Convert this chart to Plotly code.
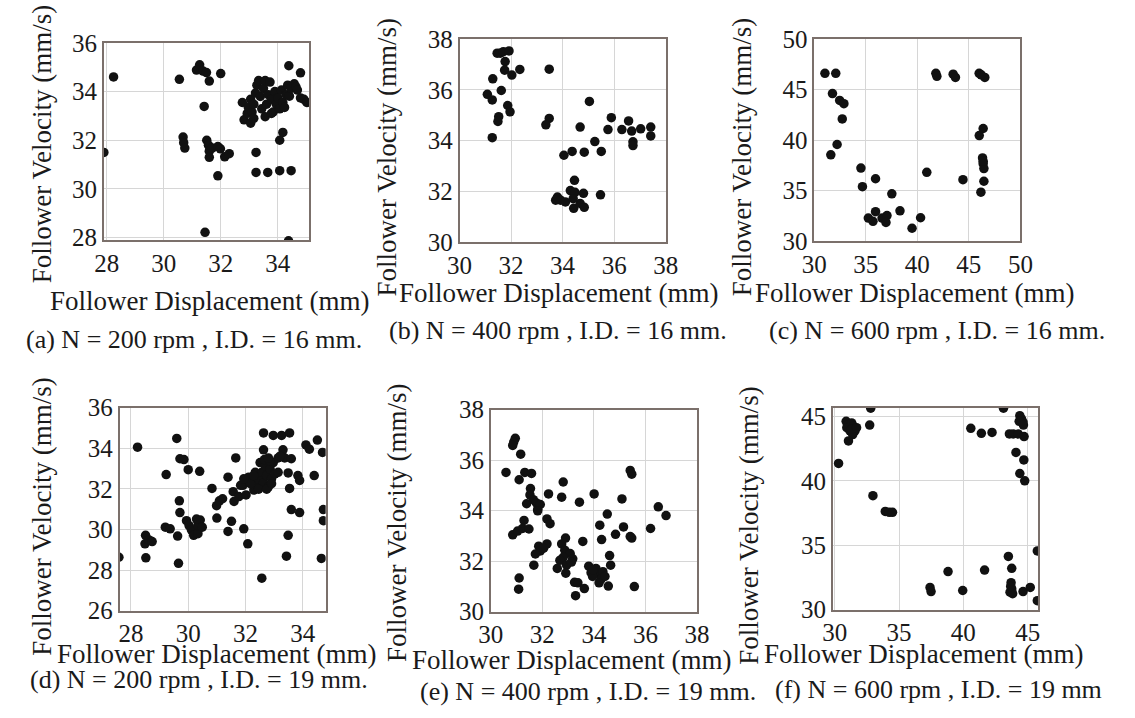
import plotly.graph_objects as go

# ---------------- data ----------------
# (a) N = 200 rpm, I.D. = 16 mm
a_disp = [28.24, 27.9, 30.55, 31.26, 31.15, 31.38, 31.5, 31.6, 32.0, 31.42, 30.68, 30.7, 30.74,
          31.51, 31.57, 31.6, 31.6, 31.7, 31.9, 31.99, 32.14, 32.3, 31.9, 31.45, 33.24, 33.24,
          33.65, 34.07, 34.47, 34.07, 34.18, 34.39, 34.8, 34.38,
          32.76, 32.82, 32.93, 32.97, 33.05, 33.1, 33.16, 33.22, 33.27, 33.33, 33.39, 33.44,
          33.5, 33.56, 33.61, 33.67, 33.73, 33.78, 33.84, 33.9, 33.95, 34.01, 34.07, 34.13,
          34.18, 34.24, 34.3, 34.35, 34.41, 34.47, 34.58, 34.64, 34.69, 34.8, 34.92, 33.16,
          33.56, 33.78, 33.05, 35.02]
a_vel = [34.6, 31.5, 34.5, 35.1, 34.88, 34.84, 34.78, 34.43, 34.74, 33.39, 32.13, 31.9, 31.68,
         32.0, 31.8, 31.55, 31.3, 31.68, 31.74, 31.65, 31.32, 31.45, 30.54, 28.22, 31.5, 30.68,
         30.68, 30.75, 30.75, 32.0, 32.32, 35.06, 34.77, 27.87,
         33.55, 32.84, 33.1, 33.35, 33.68, 33.16, 33.48, 33.94, 34.26, 34.45, 33.8, 33.29,
         34.13, 34.45, 33.48, 33.87, 34.39, 33.68, 33.16, 34.0, 33.48, 33.74, 33.29, 34.06,
         33.55, 33.35, 33.87, 34.26, 33.81, 34.13, 34.32, 34.19, 34.06, 33.74, 33.68, 32.9,
         32.97, 33.1, 32.7, 33.55]

# (b) N = 400 rpm, I.D. = 16 mm
b_disp = [31.46, 31.58, 31.7, 31.92, 31.77, 31.75, 32.03, 32.34, 31.29, 31.62, 31.08, 31.27,
          31.87, 31.96, 31.52, 31.49, 31.27, 33.48, 33.48, 33.35, 35.04, 34.68, 35.89, 35.76,
          36.3, 36.56, 36.68, 37.03, 37.42, 37.42, 36.73, 36.73, 35.25, 35.5, 34.84, 34.05,
          34.37, 34.46, 34.3, 34.48, 34.81, 33.8, 33.92, 34.11, 34.43, 34.68, 34.84, 35.47,
          33.73, 34.41]
b_vel = [37.44, 37.44, 37.5, 37.53, 37.11, 36.77, 36.58, 36.8, 36.43, 35.97, 35.82, 35.6,
         35.38, 35.13, 34.94, 34.75, 34.11, 36.81, 34.87, 34.62, 35.54, 34.53, 34.9, 34.43,
         34.43, 34.77, 34.37, 34.46, 34.53, 34.18, 33.95, 33.8, 33.96, 33.57, 33.54, 33.42,
         33.57, 32.43, 32.03, 31.96, 31.92, 31.77, 31.65, 31.58, 31.33, 31.52, 31.37, 31.86,
         31.65, 31.71]

# (c) N = 600 rpm, I.D. = 16 mm
c_disp = [31.04, 32.09, 31.77, 32.47, 32.88, 32.72, 32.22, 31.61, 34.53, 34.68, 35.95, 37.53,
          35.95, 35.25, 35.7, 36.58, 37.06, 36.96, 38.32, 39.49, 40.32, 40.92, 41.8, 41.9,
          43.48, 43.7, 46.0, 46.55, 46.2, 44.43, 46.39, 46.01, 46.33, 46.39, 46.46, 46.46,
          46.17, 46.39]
c_vel = [46.6, 46.6, 44.6, 43.92, 43.6, 42.09, 39.56, 38.54, 37.22, 35.38, 36.17, 34.68,
         32.91, 32.28, 31.96, 32.28, 32.53, 31.84, 33.0, 31.27, 32.31, 36.8, 46.6, 46.3,
         46.52, 46.2, 46.6, 46.2, 46.45, 36.08, 41.14, 40.44, 38.23, 37.66, 37.18, 35.92,
         34.84, 37.9]

# (d) N = 200 rpm, I.D. = 19 mm
d_disp = [27.58, 28.23, 28.51, 28.49, 28.63, 28.74, 28.52, 29.23, 29.2, 29.37, 29.6, 29.66,
          29.63, 29.69, 29.71, 29.71, 29.85, 30.0, 30.4, 29.94, 30.03, 30.11, 30.19, 30.34,
          30.42, 30.34, 30.49, 30.29, 30.83, 30.99, 31.0, 31.09, 31.2, 31.39, 31.51, 31.39,
          31.57, 31.6, 31.66, 31.77, 31.91, 31.94, 32.02, 32.08, 32.11, 32.23, 32.29, 32.34,
          32.4, 32.46, 32.51, 32.57, 32.63, 32.63, 32.63, 32.69, 32.74, 32.8, 32.86, 32.91,
          32.97, 32.97, 33.03, 33.14, 33.26, 33.31, 33.37, 33.49, 33.54, 33.54, 33.6, 33.6,
          33.49, 33.43, 32.57, 33.83, 33.89, 33.89, 34.11, 34.23, 34.4, 34.51, 34.69, 34.72,
          34.72, 34.65, 32.17, 32.29, 32.46, 32.66, 32.74, 32.86, 32.91, 33.14, 33.2, 32.8,
          31.83, 31.94]
d_vel = [28.63, 34.05, 29.71, 29.29, 29.48, 29.4, 28.6, 32.7, 30.11, 30.03, 34.48, 28.33,
         29.67, 31.41, 30.83, 33.48, 33.44, 32.94, 32.86, 30.43, 30.19, 29.98, 29.71, 29.79,
         30.46, 30.19, 30.11, 30.51, 32.02, 31.17, 30.56, 31.41, 31.51, 29.9, 30.4, 32.57,
         31.86, 31.38, 33.52, 31.62, 32.17, 30.03, 31.7, 29.29, 32.57, 32.33, 31.94, 32.81,
         32.17, 32.49, 33.29, 32.81, 32.3, 34.75, 33.92, 33.13, 32.65, 32.1, 32.97, 32.49,
         34.63, 33.29, 32.73, 33.52, 34.63, 33.92, 33.52, 32.78, 32.02, 34.75, 33.48, 30.98,
         29.71, 28.68, 27.6, 32.65, 32.41, 30.83, 34.16, 33.95, 32.65, 34.4, 33.79, 30.98,
         30.43, 28.57, 32.25, 32.65, 31.98, 33.44, 31.98, 33.37, 32.25, 32.81, 33.6, 33.52,
         32.17, 32.49]

# (e) N = 400 rpm, I.D. = 19 mm
e_disp = [30.95, 30.89, 30.85, 31.16, 30.59, 31.1, 31.32, 31.58, 31.54, 31.52, 31.65, 31.39,
          31.77, 31.82, 31.92, 31.82, 32.24, 32.81, 32.75, 33.44, 34.01, 35.09, 35.41, 35.47,
          34.52, 34.23, 35.15, 34.84, 35.41, 35.47, 36.2, 36.5, 36.8, 31.29, 31.23, 31.48,
          30.85, 31.04, 32.18, 32.3, 32.18, 31.86, 31.92, 31.73, 32.05, 31.67, 32.9, 32.75,
          32.87, 33.08, 33.18, 32.81, 32.68, 32.58, 32.94, 33.13, 32.91, 33.57, 33.25, 33.38,
          33.29, 33.63, 33.8, 33.89, 34.08, 34.18, 34.27, 34.35, 34.43, 34.56, 34.2, 34.3,
          34.61, 34.65, 33.95, 33.97, 35.57, 31.1, 31.08]
e_vel = [36.86, 36.71, 36.58, 36.23, 35.51, 35.22, 35.51, 35.47, 34.87, 34.62, 34.43, 34.27,
         34.3, 34.05, 34.24, 33.99, 34.66, 35.13, 34.53, 34.33, 34.66, 34.46, 35.59, 35.44,
         33.86, 33.42, 33.35, 33.06, 32.97, 32.91, 33.29, 34.15, 33.8, 33.61, 33.29, 33.27,
         33.04, 33.19, 33.67, 33.48, 32.68, 32.59, 32.4, 32.28, 32.51, 31.84, 32.91, 32.68,
         32.43, 32.3, 32.09, 32.15, 32.03, 31.71, 31.84, 31.96, 31.52, 32.78, 31.16, 31.14,
         30.63, 30.91, 31.8, 31.54, 31.71, 31.52, 31.27, 31.58, 31.39, 31.01, 31.14, 32.85,
         32.22, 31.84, 31.39, 31.65, 30.99, 31.33, 30.89]

# (f) N = 600 rpm, I.D. = 19 mm
f_disp = [30.3, 30.89, 31.07, 30.94, 31.32, 31.45, 31.57, 31.19, 31.4, 31.07, 31.32, 31.7,
          32.72, 32.8, 32.97, 33.93, 34.24, 34.49, 37.41, 37.49, 38.81, 39.95, 41.65, 40.58,
          41.4, 42.23, 43.12, 43.58, 43.88, 44.26, 44.72, 44.39, 44.52, 44.64, 44.34, 44.67,
          44.09, 44.7, 44.39, 44.77, 43.5, 43.76, 43.71, 43.76, 43.63, 43.83, 44.64, 45.2,
          45.75, 45.75, 43.68]
f_vel = [41.36, 44.63, 44.39, 44.14, 44.51, 44.26, 43.89, 43.89, 43.6, 43.11, 44.02, 44.14,
         44.34, 45.65, 38.86, 37.63, 37.56, 37.56, 31.73, 31.41, 32.96, 31.49, 33.08, 44.09,
         43.7, 43.77, 45.65, 43.65, 43.65, 43.65, 43.45, 45.07, 44.83, 44.58, 44.63, 44.34,
         42.22, 41.63, 40.58, 40.01, 34.14, 33.21, 32.1, 31.61, 31.36, 31.24, 31.41, 31.73,
         34.56, 30.7, 31.81]

captions = ["(a) N = 200 rpm , I.D. = 16 mm.", "(b) N = 400 rpm , I.D. = 16 mm.",
            "(c) N = 600 rpm , I.D. = 16 mm.", "(d) N = 200 rpm , I.D. = 19 mm.",
            "(e) N = 400 rpm , I.D. = 19 mm.", "(f) N = 600 rpm , I.D. = 19 mm"]
x_title = "Follower Displacement (mm)"
y_title = "Follower Velocity (mm/s)"

x_ranges = [[27.9, 35.1], [30, 38], [30, 50], [27.6, 34.8], [30, 38], [29.85, 45.8]]
y_ranges = [[27.9, 36.0], [30, 38], [30, 50], [26, 36], [30, 38], [30.0, 45.7]]
x_ticks = [[28, 30, 32, 34], [30, 32, 34, 36, 38], [30, 35, 40, 45, 50],
           [28, 30, 32, 34], [30, 32, 34, 36, 38], [30, 35, 40, 45]]
y_ticks = [[28, 30, 32, 34, 36], [30, 32, 34, 36, 38], [30, 35, 40, 45, 50],
           [26, 28, 30, 32, 34, 36], [30, 32, 34, 36, 38], [30, 35, 40, 45]]

series = [(a_disp, a_vel), (b_disp, b_vel), (c_disp, c_vel),
          (d_disp, d_vel), (e_disp, e_vel), (f_disp, f_vel)]

# ---------------- layout (pixel geometry) ----------------
W, H = 1135, 718
boxes = [(93, 303, 31, 236), (457, 668, 27, 238), (820, 1031, 27, 237),
         (109, 320, 410, 621), (489, 700, 412, 622), (839, 1049, 410, 620)]
xtitle_pos = [(201, 299), (558, 291), (923, 291), (208, 666), (572, 672), (932, 666)]
ytitle_pos = [(30, 136), (383, 150), (746, 150), (30, 523), (393, 530), (753, 533)]
caption_pos = [(185, 339), (558, 330), (946, 330), (190, 693), (588, 705), (947, 703)]

FONT = "Liberation Serif, Times New Roman, serif"
TXT = "#1a1a1a"

fig = go.Figure()
layout = dict(width=W, height=H, autosize=False, margin=dict(l=0, r=0, t=0, b=0),
              paper_bgcolor="white", plot_bgcolor="white", showlegend=False)
annotations = []

for i, (xs, ys) in enumerate(series):
    k = "" if i == 0 else str(i + 1)
    fig.add_trace(go.Scatter(x=xs, y=ys, mode="markers", xaxis="x" + k, yaxis="y" + k,
                             marker=dict(color="#111111", size=9.5, line=dict(width=0))))
    l, r, t, b = boxes[i]
    common = dict(showline=True, mirror=True, linecolor="#7b706b", linewidth=1.5,
                  showgrid=True, gridcolor="#d6d6d6", gridwidth=1, zeroline=False,
                  ticks="", tickfont=dict(family=FONT, size=25, color=TXT))
    layout["xaxis" + k] = dict(domain=[l / W, r / W], range=x_ranges[i], tickmode="array",
                               tickvals=x_ticks[i], anchor="y" + k, **common)
    layout["yaxis" + k] = dict(domain=[1 - b / H, 1 - t / H], range=y_ranges[i], tickmode="array",
                               tickvals=y_ticks[i], anchor="x" + k, **common)
    for (px, py), txt, ang, sz in [(xtitle_pos[i], x_title, 0, 27),
                                    (ytitle_pos[i], y_title, -90, 27),
                                    (caption_pos[i], captions[i], 0, 26)]:
        annotations.append(dict(x=px / W, y=1 - py / H, xref="paper", yref="paper",
                                text=txt, showarrow=False, textangle=ang,
                                xanchor="center", yanchor="middle",
                                font=dict(family=FONT, size=sz, color=TXT)))

layout["annotations"] = annotations
fig.update_layout(**layout)
fig.write_html("out.html", config={"displayModeBar": False},
               post_script="document.body.style.margin='0';")
